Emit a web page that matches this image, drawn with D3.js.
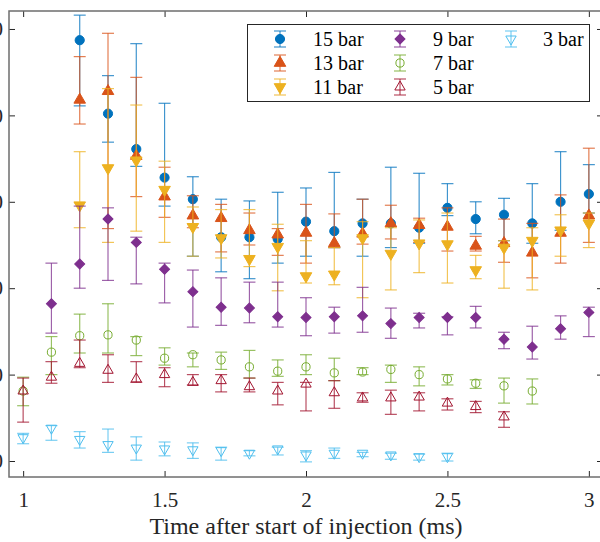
<!DOCTYPE html>
<html>
<head>
<meta charset="utf-8">
<script src="https://cdn.jsdelivr.net/npm/d3@7"></script>
<style>
  body { margin: 0; background: #fff; }
  svg { display: block; font-family: "Liberation Serif", "Times New Roman", serif; }
</style>
</head>
<body>
<svg id="chart" width="600" height="542"></svg>
<script>
// Time after start of injection (ms)
const times = [1.0, 1.1, 1.2, 1.3, 1.4, 1.5, 1.6, 1.7, 1.8, 1.9, 2.0,
               2.1, 2.2, 2.3, 2.4, 2.5, 2.6, 2.7, 2.8, 2.9, 3.0];
const xTicks = [1, 1.5, 2, 2.5, 3];
const yTicks = [10, 20, 30, 40, 50, 60];

// 15 bar, 1.2 - 3.0 ms
const mean15 = [58.7, 50.2, 46.1, 42.8, 40.3, 35.9, 35.9, 35.7, 37.7, 36.6, 37.5, 37.5, 37.0, 39.3, 38.0, 38.5, 37.5, 40.0, 40.9];
const lo15   = [51.1, 46.9, 44.1, 39.5, 33.7, 31.9, 31.1, 32.9, 33.7, 34.7, 33.7, 34.7, 35.2, 38.4, 36.3, 35.5, 35.2, 36.7, 38.7];
const hi15   = [61.6, 54.6, 58.3, 51.4, 42.9, 40.3, 40.1, 41.1, 41.6, 43.4, 40.3, 44.0, 43.3, 42.1, 40.0, 40.4, 42.1, 45.8, 44.3];

// 13 bar, 1.2 - 3.0 ms
const mean13 = [51.8, 52.8, 45.3, 40.6, 38.4, 38.1, 36.7, 36.2, 36.4, 35.2, 36.3, 37.5, 37.3, 37.1, 34.9, 35.2, 34.1, 36.4, 38.4];
const lo13   = [49.0, 36.9, 40.6, 38.2, 37.0, 34.2, 35.0, 33.8, 32.9, 34.7, 35.1, 35.7, 35.3, 34.3, 34.3, 33.0, 31.2, 32.9, 35.3];
const hi13   = [56.8, 59.5, 54.4, 44.0, 40.7, 39.7, 38.7, 36.9, 39.7, 38.6, 40.3, 39.6, 38.1, 39.3, 36.0, 38.0, 37.5, 40.8, 46.2];

// 11 bar, 1.2 - 3.0 ms
const mean11 = [39.6, 43.9, 44.8, 41.4, 37.1, 35.8, 33.4, 34.8, 31.4, 31.6, 35.8, 34.0, 35.2, 35.1, 32.1, 34.7, 35.5, 36.7, 37.5];
const lo11   = [37.0, 35.3, 36.6, 35.3, 33.7, 33.5, 32.5, 29.7, 30.6, 30.4, 28.9, 29.8, 31.8, 30.6, 31.1, 30.0, 29.8, 33.7, 34.7];
const hi11   = [45.8, 53.1, 51.2, 44.7, 39.4, 39.1, 39.1, 37.4, 35.5, 34.7, 37.7, 37.0, 37.9, 38.7, 33.8, 35.5, 37.0, 38.5, 38.7];

// 9 bar, 1.1 - 3.0 ms
const mean9 = [28.2, 32.8, 38.0, 35.3, 32.2, 29.6, 27.8, 27.7, 26.7, 26.6, 26.7, 26.8, 25.9, 26.6, 26.6, 26.6, 24.1, 23.2, 25.3, 27.2];
const lo9   = [24.8, 30.0, 30.9, 30.5, 28.3, 25.5, 25.7, 26.0, 25.5, 24.5, 24.8, 24.9, 24.2, 25.4, 24.6, 25.4, 23.0, 21.8, 24.1, 24.4];
const hi9   = [32.9, 39.5, 39.3, 35.9, 32.9, 32.1, 31.2, 30.7, 30.7, 28.9, 27.8, 30.1, 27.7, 27.1, 26.7, 27.9, 24.9, 25.6, 26.8, 27.8];

// 7 bar, 1.0 - 2.8 ms
const mean7 = [18.1, 22.6, 24.5, 24.6, 24.0, 21.9, 22.3, 21.7, 20.9, 20.4, 20.9, 20.2, 20.3, 20.6, 20.0, 19.5, 19.0, 18.7, 18.1];
const lo7   = [16.4, 20.0, 22.5, 22.5, 22.2, 21.1, 20.9, 20.6, 19.6, 19.8, 20.0, 19.3, 20.0, 19.1, 18.7, 18.8, 18.4, 16.7, 16.6];
const hi7   = [19.7, 24.4, 27.0, 28.2, 24.4, 23.1, 22.5, 22.6, 22.8, 21.7, 22.3, 21.9, 20.8, 21.1, 20.9, 20.0, 19.4, 19.6, 19.5];

// 5 bar, 1.0 - 2.7 ms
const mean5 = [18.1, 19.7, 21.3, 20.5, 19.5, 20.0, 19.1, 19.3, 18.6, 18.1, 18.9, 17.9, 17.3, 17.3, 17.4, 16.7, 16.3, 15.1];
const lo5   = [14.5, 19.0, 20.8, 19.1, 19.1, 18.6, 18.8, 18.0, 18.0, 16.5, 15.8, 16.1, 16.8, 15.4, 15.8, 15.9, 15.6, 13.9];
const hi5   = [19.6, 21.5, 24.0, 22.3, 21.5, 20.8, 20.0, 20.0, 19.6, 19.1, 19.1, 19.3, 17.9, 18.2, 17.9, 17.2, 16.9, 15.7];

// 3 bar, 1.0 - 2.5 ms
const mean3 = [12.7, 13.8, 12.5, 11.9, 11.5, 11.4, 11.3, 11.2, 10.9, 11.4, 10.7, 10.9, 10.9, 10.7, 10.5, 10.5];
const lo3   = [12.0, 12.4, 11.5, 11.0, 10.1, 10.6, 10.3, 10.1, 10.6, 10.7, 9.9, 10.3, 10.5, 10.2, 10.1, 10.0];
const hi3   = [13.2, 14.1, 13.4, 13.7, 12.8, 12.2, 12.1, 11.6, 11.2, 11.6, 11.2, 11.5, 11.0, 10.9, 10.8, 10.9];

const series = [
  { name: "15 bar", t: times.slice(2), mean: mean15, lo: lo15, hi: hi15, color: "#0072BD", shape: "circle", filled: true },
  { name: "13 bar", t: times.slice(2), mean: mean13, lo: lo13, hi: hi13, color: "#D95319", shape: "up", filled: true },
  { name: "11 bar", t: times.slice(2), mean: mean11, lo: lo11, hi: hi11, color: "#EDB120", shape: "down", filled: true },
  { name: "9 bar", t: times.slice(1), mean: mean9, lo: lo9, hi: hi9, color: "#7E2F8E", shape: "diamond", filled: true },
  { name: "7 bar", t: times.slice(0, 19), mean: mean7, lo: lo7, hi: hi7, color: "#77AC30", shape: "circle", filled: false },
  { name: "5 bar", t: times.slice(0, 18), mean: mean5, lo: lo5, hi: hi5, color: "#A2142F", shape: "up", filled: false },
  { name: "3 bar", t: times.slice(0, 16), mean: mean3, lo: lo3, hi: hi3, color: "#4DBEEE", shape: "down", filled: false }
];

const AXIS_COLOR = "#262626";
const CAP = 6;

const plot = { left: 9, top: 11, right: 603, bottom: 477 };

const svg = d3.select("#chart");

const x = d3.scaleLinear().domain([0.95, 3.05]).range([plot.left, plot.right]);
const y = d3.scaleLinear().domain([8.15, 62.08]).range([plot.bottom, plot.top]);

function markerPath(s) {
  const filledSize = s.filled ? 1 : 0.8;
  if (s.shape === "circle") return d3.symbol(d3.symbolCircle, 66 * filledSize)();
  if (s.shape === "diamond") return d3.symbol(d3.symbolSquare, 50)();
  return d3.symbol(d3.symbolTriangle, 58 * filledSize)();
}

function markerRotate(s) {
  if (s.shape === "down") return 180;
  if (s.shape === "diamond") return 45;
  return 0;
}

function drawMarker(g, s, cx, cy) {
  g.append("path")
    .attr("d", markerPath(s))
    .attr("transform", `translate(${cx},${cy}) rotate(${markerRotate(s)})`)
    .attr("fill", s.filled ? s.color : "none")
    .attr("stroke", s.color)
    .attr("stroke-width", 1);
}

function drawErrorBar(g, s, cx, yTop, yBot) {
  const bar = g.append("g")
    .attr("stroke", s.color)
    .attr("stroke-width", 1.2)
    .attr("stroke-opacity", 0.75);
  bar.append("line").attr("x1", cx).attr("x2", cx).attr("y1", yTop).attr("y2", yBot);
  bar.append("line").attr("x1", cx - CAP).attr("x2", cx + CAP).attr("y1", yTop).attr("y2", yTop);
  bar.append("line").attr("x1", cx - CAP).attr("x2", cx + CAP).attr("y1", yBot).attr("y2", yBot);
}

// data, drawn in order so later series sit on top
const dataLayer = svg.append("g");
series.forEach(s => {
  const g = dataLayer.append("g").attr("class", "series");
  s.t.forEach((t, i) => {
    drawErrorBar(g, s, x(t), y(s.hi[i]), y(s.lo[i]));
    drawMarker(g, s, x(t), y(s.mean[i]));
  });
});

// axes, ticks pointing inward
function styleAxis(g) {
  g.select(".domain").remove();
  g.selectAll(".tick line").attr("stroke", AXIS_COLOR).attr("stroke-width", 1);
  g.selectAll(".tick text").attr("fill", AXIS_COLOR).style("font-size", "21px")
    .style("font-family", "'Liberation Serif', 'Times New Roman', serif");
}

svg.append("g")
  .attr("transform", `translate(0,${plot.bottom})`)
  .call(d3.axisBottom(x).tickValues(xTicks).tickFormat(d3.format("")).tickSizeInner(-6).tickSizeOuter(0).tickPadding(15))
  .call(styleAxis);

svg.append("g")
  .attr("transform", `translate(0,${plot.top})`)
  .call(d3.axisTop(x).tickValues(xTicks).tickFormat("").tickSizeInner(-6).tickSizeOuter(0))
  .call(styleAxis);

svg.append("g")
  .attr("transform", `translate(${plot.left},0)`)
  .call(d3.axisLeft(y).tickValues(yTicks).tickSizeInner(-6).tickSizeOuter(0).tickPadding(6))
  .call(styleAxis);

svg.append("g")
  .attr("transform", `translate(${plot.right},0)`)
  .call(d3.axisRight(y).tickValues(yTicks).tickFormat("").tickSizeInner(-6).tickSizeOuter(0))
  .call(styleAxis);

svg.append("rect")
  .attr("x", plot.left).attr("y", plot.top)
  .attr("width", plot.right - plot.left).attr("height", plot.bottom - plot.top)
  .attr("fill", "none")
  .attr("stroke", "#6e6e6e")
  .attr("stroke-width", 1.5);

svg.append("text")
  .attr("x", (plot.left + plot.right) / 2)
  .attr("y", 534)
  .attr("text-anchor", "middle")
  .attr("fill", AXIS_COLOR)
  .style("font-size", "24px")
  .text("Time after start of injection (ms)");

// legend
const legendCols = [[0, 1, 2], [3, 4, 5], [6]];
const colIconX = [280, 400, 511];
const colTextX = [313, 433, 543];
const rowY = [39, 63, 87];

const legend = svg.append("g");
legend.append("rect")
  .attr("x", 247.5).attr("y", 24.5)
  .attr("width", 342).attr("height", 77)
  .attr("fill", "#fff")
  .attr("stroke", AXIS_COLOR)
  .attr("stroke-width", 1);

legendCols.forEach((col, c) => {
  col.forEach((si, r) => {
    const s = series[si];
    drawErrorBar(legend, s, colIconX[c], rowY[r] - 8, rowY[r] + 8);
    drawMarker(legend, s, colIconX[c], rowY[r]);
    legend.append("text")
      .attr("x", colTextX[c])
      .attr("y", rowY[r] + 7)
      .attr("fill", "#000")
      .style("font-size", "20px")
      .text(s.name);
  });
});
</script>
</body>
</html>
